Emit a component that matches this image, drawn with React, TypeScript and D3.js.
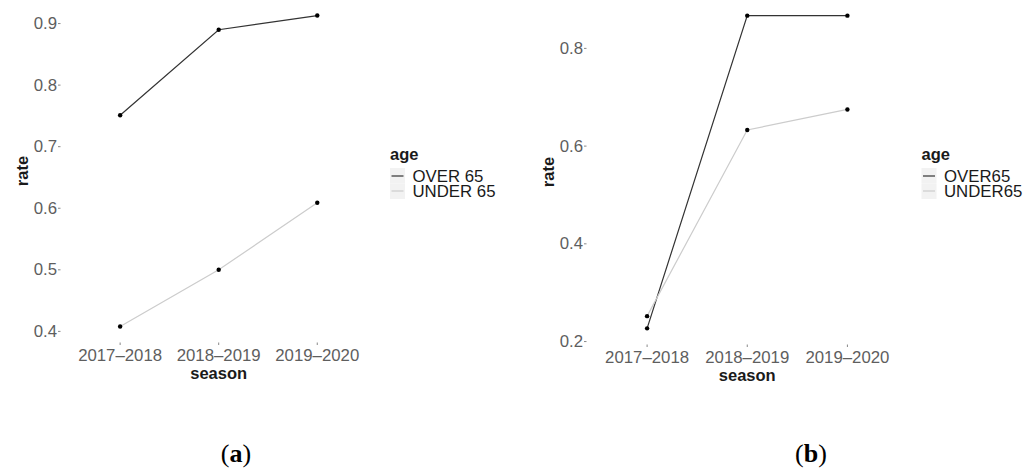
import React from "react";
import * as d3 from "d3";

const seasons = ["2017–2018", "2018–2019", "2019–2020"];
const overA = [0.751, 0.89, 0.913];
const underA = [0.408, 0.5, 0.609];
const overB = [0.227, 0.867, 0.867];
const underB = [0.252, 0.633, 0.675];
const ticksA = [0.4, 0.5, 0.6, 0.7, 0.8, 0.9];
const ticksB = [0.2, 0.4, 0.6, 0.8];
const legendA = ["OVER 65", "UNDER 65"];
const legendB = ["OVER65", "UNDER65"];

const SANS = "'Liberation Sans', Arial, Helvetica, sans-serif";
const TXT = "#5e5e5e";
const COLORS = ["#333333", "#cccccc"];

type PanelProps = {
  left: number; right: number; top: number; bottom: number;
  series: number[][]; ticks: number[]; labels: string[];
  legendX: number; caption: string; captionX: number;
};

function Panel(p: PanelProps) {
  const all = p.series.flat();
  const [mn, mx] = d3.extent(all) as [number, number];
  const pad = (mx - mn) * 0.05;
  const y = d3.scaleLinear().domain([mn - pad, mx + pad]).range([p.bottom, p.top]);
  const x = d3.scalePoint<string>().domain(seasons).range([p.left, p.right]).padding(0.6);
  const line = d3.line<number>().x((_, i) => x(seasons[i]) as number).y((d) => y(d));
  const midY = (p.top + p.bottom) / 2;
  const midX = (p.left + p.right) / 2;
  return (
    <g>
      {p.ticks.map((t) => (
        <g key={t}>
          <line x1={p.left - 3} x2={p.left - 0.5} y1={y(t)} y2={y(t)} stroke="#888" strokeWidth={1} />
          <text x={p.left - 4} y={y(t)} textAnchor="end" dominantBaseline="central" fontFamily={SANS} fontSize={16.8} fill={TXT}>
            {t.toFixed(1)}
          </text>
        </g>
      ))}
      {seasons.map((s) => (
        <g key={s}>
          <line x1={x(s)} x2={x(s)} y1={p.bottom + 0.5} y2={p.bottom + 3} stroke="#888" strokeWidth={1} />
          <text x={x(s)} y={p.bottom + 13} textAnchor="middle" dominantBaseline="central" fontFamily={SANS} fontSize={16.8} fill={TXT}>
            {s}
          </text>
        </g>
      ))}
      <text x={midX} y={p.bottom + 31} textAnchor="middle" dominantBaseline="central" fontFamily={SANS} fontSize={16.5} fontWeight="bold" fill="#1a1a1a">
        season
      </text>
      <text transform={`translate(${p.left - 39},${midY}) rotate(-90)`} textAnchor="middle" dominantBaseline="central" fontFamily={SANS} fontSize={16.5} fontWeight="bold" fill="#1a1a1a">
        rate
      </text>
      {p.series.map((s, si) => (
        <path key={si} d={line(s) || ""} fill="none" stroke={COLORS[si]} strokeWidth={1.2} />
      ))}
      {p.series.map((s, si) =>
        s.map((v, i) => <circle key={`${si}-${i}`} cx={x(seasons[i])} cy={y(v)} r={2.2} fill="#000" />)
      )}
      <text x={p.legendX} y={154} dominantBaseline="central" fontFamily={SANS} fontSize={16.5} fontWeight="bold" fill="#1a1a1a">
        age
      </text>
      {p.labels.map((l, i) => (
        <g key={l}>
          <rect x={p.legendX} y={168 + i * 15.5} width={15} height={15.5} fill="#f2f2f2" />
          <line x1={p.legendX + 1.5} x2={p.legendX + 13.5} y1={176 + i * 15} y2={176 + i * 15} stroke={COLORS[i]} strokeWidth={1.2} />
          <text x={p.legendX + 22.5} y={176 + i * 15} dominantBaseline="central" fontFamily={SANS} fontSize={16.8} fill="#1a1a1a">
            {l}
          </text>
        </g>
      ))}
      <text x={p.captionX} y={453} textAnchor="middle" dominantBaseline="central" fontFamily="'Liberation Serif', 'DejaVu Serif', serif" fontSize={26} fill="#000">
        (<tspan fontWeight="bold">{p.caption}</tspan>)
      </text>
    </g>
  );
}

export default function App() {
  return (
    <svg width={1035} height={469} style={{ position: "absolute", left: 0, top: 0, background: "#fff" }}>
      <rect width={1035} height={469} fill="#fff" />
      <Panel left={61} right={376.4} top={0} bottom={342} series={[overA, underA]} ticks={ticksA} labels={legendA} legendX={390} caption="a" captionX={236} />
      <Panel left={587} right={907.5} top={0} bottom={344} series={[overB, underB]} ticks={ticksB} labels={legendB} legendX={921.5} caption="b" captionX={811} />
    </svg>
  );
}
